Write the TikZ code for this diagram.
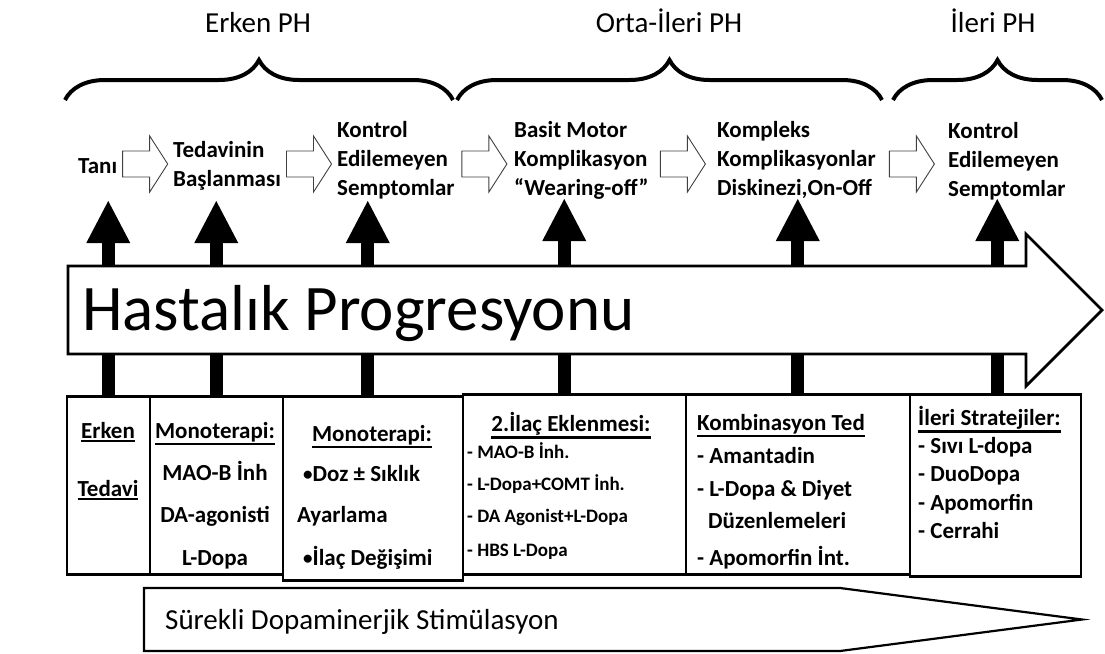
\documentclass[tikz,border=0pt]{standalone}
\usepackage{fontspec}
\setmainfont{Carlito}
\usepackage{tikz}
\usetikzlibrary{arrows.meta,positioning,calc,decorations.pathreplacing}
\newcommand{\hdline}[1]{\vtop{\hbox{#1}\kern1.5pt\hrule height 2.2pt}}
\newcommand{\smbul}{{\fontsize{19}{19}\selectfont\raisebox{1pt}{•}}}
\tikzset{
  phase/.style={font=\fontsize{29}{34}\selectfont, inner sep=0pt, anchor=base},
  brace/.style={decorate, decoration={brace, amplitude=40pt}, line width=4pt},
  stage/.style={font=\fontsize{23}{29}\selectfont\bfseries, align=left, inner sep=0pt, anchor=west},
  hollowarrow/.pic={
    \draw[draw=black!75, fill=white, line width=0.9pt] (-22.5,-13) -- (4.5,-13) -- (4.5,-28)
      -- (22.5,0) -- (4.5,28) -- (4.5,13) -- (-22.5,13) -- cycle;},
  uparrow/.style={line width=13pt, -{Triangle[width=44pt,length=42pt,line width=0pt]}},
  cellbox/.style={draw, line width=1.5pt, fill=white, inner sep=0pt, anchor=north west},
  celltxt/.style={font=\fontsize{23}{28}\selectfont\bfseries, inner sep=0pt, anchor=base},
  smalltxt/.style={font=\fontsize{19}{23}\selectfont\bfseries, inner sep=0pt, anchor=base west}
}
\begin{document}
\begin{tikzpicture}[x=1pt,y=-1pt]
  \useasboundingbox (0,0) rectangle (1105,653);

  \node[phase] (erken) at (258,32) {Erken PH};
  \node[phase] (orta) at (669,32) {Orta-İleri PH};
  \node[phase] (ileri) at (993,32) {İleri PH};
  \draw[brace] (65,100) -- (453,100);
  \draw[brace] (457,100) -- (882,100);
  \draw[brace] (893,100) -- (1102,100);

  \node[stage] (s1) at (78,166) {Tanı};
  \node[stage] (s2) at (173,166) {Tedavinin\\Başlanması};
  \node[stage] (s3) at (337,160) {Kontrol\\Edilemeyen\\Semptomlar};
  \node[stage] (s4) at (514,160) {Basit Motor\\Komplikasyon\\“Wearing-off”};
  \node[stage] (s5) at (717,160) {Kompleks\\Komplikasyonlar\\Diskinezi,On-Off};
  \node[stage] (s6) at (948,161) {Kontrol\\Edilemeyen\\Semptomlar};
  \coordinate (arrline) at (0,164);
  \foreach \a/\b [count=\i] in {s1/s2,s2/s3,s3/s4,s4/s5,s5/s6} {
    \coordinate (m\i) at ($(\a.east)!.5!(\b.west)$);
    \pic (h\i) at (m\i |- arrline) {hollowarrow};
  }

  \node[cellbox, minimum width=83pt, minimum height=177pt] (c1) at (66,396) {};
  \node[cellbox, minimum width=133pt, minimum height=177pt] (c2) at (149,396) {};
  \node[cellbox, minimum width=180pt, minimum height=183pt] (c3) at (282,396) {};
  \node[cellbox, minimum width=223pt, minimum height=179pt] (c4) at (462,394) {};
  \node[cellbox, minimum width=224pt, minimum height=179pt] (c5) at (685,394) {};
  \node[cellbox, minimum width=171pt, minimum height=181pt] (c6) at (909,394) {};
  \foreach \c in {c1,c2,c3,c4,c5,c6}
    \draw[line width=3pt] (\c.north west) -- (\c.north east) (\c.south west) -- (\c.south east);

  \foreach \c/\dx in {c1/0,c2/0,c3/-5,c4/-10,c5/0,c6/2}
    \draw[uparrow] ([xshift=\dx pt]\c.north) -- ++(0,-195);

  \draw[line width=2.8pt, fill=white, line join=miter] (68,266) -- (1026,266) -- (1026,234) -- (1102,310)
    -- (1026,386) -- (1026,354) -- (68,354) -- cycle;
  \node[font=\fontsize{65}{70}\selectfont, inner sep=0pt, anchor=base west] (prog) at (82,330) {Hastalık Progresyonu};

  \node[celltxt] (erk) at (108,438) {\hdline{Erken}};
  \node[celltxt] (ted) at (108,496) {\hdline{Tedavi}};

  \node[celltxt] (mono1) at (215,438) {\hdline{Monoterapi:}};
  \node[celltxt] (maob) at (215,480) {MAO-B İnh};
  \node[celltxt] (daag) at (215,522) {DA-agonisti};
  \node[celltxt] (ldop) at (215,565) {L-Dopa};

  \node[celltxt] (mono2) at (372,441) {\hdline{Monoterapi:}};
  \node[celltxt, anchor=base west] (doz) at (303,481) {\smbul Doz ± Sıklık};
  \node[celltxt, anchor=base west] (ayar) at (297,522) {Ayarlama};
  \node[celltxt, anchor=base west] (degis) at (303,565) {\smbul İlaç Değişimi};

  \node[celltxt] (ekle) at (571,431) {\hdline{2.İlaç Eklenmesi:}};
  \node[smalltxt] (e1) at (467,458) {- MAO-B İnh.};
  \node[smalltxt] (e2) at (467,490) {- L-Dopa+COMT İnh.};
  \node[smalltxt] (e3) at (467,522) {- DA Agonist+L-Dopa};
  \node[smalltxt] (e4) at (467,556) {- HBS L-Dopa};

  \node[celltxt] (komb) at (781,430) {\hdline{Kombinasyon Ted}};
  \node[celltxt, anchor=base west] (k1) at (697,463) {- Amantadin};
  \node[celltxt, anchor=base west] (k2) at (697,496) {- L-Dopa \& Diyet};
  \node[celltxt, anchor=base west] (k3) at (708,528) {Düzenlemeleri};
  \node[celltxt, anchor=base west] (k4) at (697,565) {- Apomorfin İnt.};

  \node[celltxt, anchor=base west] (strat) at (918,425) {\hdline{İleri Stratejiler:}};
  \node[celltxt, anchor=base west] (i1) at (918,453) {- Sıvı L-dopa};
  \node[celltxt, anchor=base west] (i2) at (918,481) {- DuoDopa};
  \node[celltxt, anchor=base west] (i3) at (918,510) {- Apomorfin};
  \node[celltxt, anchor=base west] (i4) at (918,538) {- Cerrahi};

  \draw[line width=2.2pt, fill=white] (144,588) -- (840,588) -- (1082,619.5) -- (840,651) -- (144,651) -- cycle;
  \node[font=\fontsize{29}{34}\selectfont, inner sep=0pt, anchor=base west] (stim) at (165,629) {Sürekli Dopaminerjik Stimülasyon};
\end{tikzpicture}
\end{document}
